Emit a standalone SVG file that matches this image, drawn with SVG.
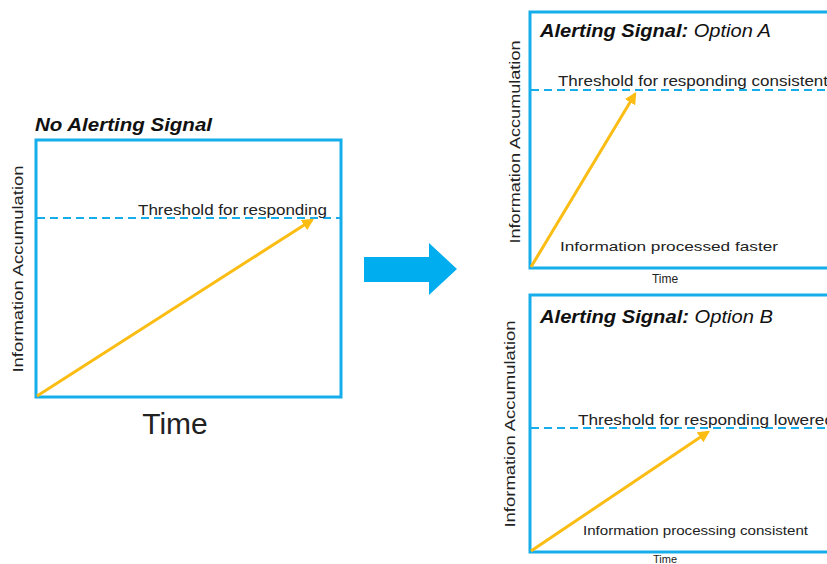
<svg xmlns="http://www.w3.org/2000/svg" width="827" height="564" viewBox="0 0 827 564">
  <style>
    .frame { fill: none; stroke: #16ADEB; stroke-width: 3; }
    .thresh { stroke: #16ADEB; stroke-width: 2; stroke-dasharray: 8 5; fill: none; }
    .accum { stroke: #FBBD14; stroke-width: 3; fill: none; marker-end: url(#head); }
    .lbl { font-family: "Liberation Sans", Arial, sans-serif; fill: #222; }
    .title { font-family: "Liberation Sans", Arial, sans-serif; font-style: italic; fill: #111; }
  </style>
  <defs>
    <marker id="head" viewBox="0 0 10 10" refX="8" refY="5" markerWidth="4" markerHeight="4" orient="auto" markerUnits="strokeWidth">
      <path d="M0,0 L10,5 L0,10 Z" fill="#FBBD14"/>
    </marker>
  </defs>
  <rect width="827" height="564" fill="#fff"/>

  <!-- Baseline panel -->
  <g id="no-signal">
    <text class="title" x="35" y="131" font-size="18" font-weight="bold" textLength="177" lengthAdjust="spacingAndGlyphs">No Alerting Signal</text>
    <rect class="frame" x="36" y="140" width="305" height="257"/>
    <line class="thresh" x1="37" y1="218" x2="340" y2="218"/>
    <text class="lbl" x="138" y="215" font-size="14" textLength="189" lengthAdjust="spacingAndGlyphs">Threshold for responding</text>
    <text class="lbl" transform="translate(23,269) rotate(-90)" text-anchor="middle" font-size="14" textLength="207" lengthAdjust="spacingAndGlyphs">Information Accumulation</text>
    <text class="lbl" x="175" y="434" text-anchor="middle" font-size="30">Time</text>
  </g>

  <!-- Option A panel -->
  <g id="option-a">
    <rect class="frame" x="530" y="12" width="310" height="256"/>
    <text class="title" x="540" y="37" font-size="18" textLength="231" lengthAdjust="spacingAndGlyphs"><tspan font-weight="bold">Alerting Signal:</tspan> Option A</text>
    <line class="thresh" x1="531" y1="90" x2="827" y2="90"/>
    <text class="lbl" x="558" y="86" font-size="14" textLength="270" lengthAdjust="spacingAndGlyphs">Threshold for responding consistent</text>
    <text class="lbl" x="560" y="251" font-size="13.5" textLength="218" lengthAdjust="spacingAndGlyphs">Information processed faster</text>
    <text class="lbl" transform="translate(520,142) rotate(-90)" text-anchor="middle" font-size="14" textLength="203" lengthAdjust="spacingAndGlyphs">Information Accumulation</text>
    <text class="lbl" x="665" y="283" text-anchor="middle" font-size="12">Time</text>
  </g>

  <!-- Option B panel -->
  <g id="option-b">
    <rect class="frame" x="530" y="295" width="310" height="257"/>
    <text class="title" x="540" y="323" font-size="18" textLength="233" lengthAdjust="spacingAndGlyphs"><tspan font-weight="bold">Alerting Signal:</tspan> Option B</text>
    <line class="thresh" x1="531" y1="428" x2="827" y2="428"/>
    <text class="lbl" x="578" y="425" font-size="14" textLength="256" lengthAdjust="spacingAndGlyphs">Threshold for responding lowered</text>
    <text class="lbl" x="583" y="535" font-size="13.5" textLength="225" lengthAdjust="spacingAndGlyphs">Information processing consistent</text>
    <text class="lbl" transform="translate(515,424) rotate(-90)" text-anchor="middle" font-size="14" textLength="207" lengthAdjust="spacingAndGlyphs">Information Accumulation</text>
    <text class="lbl" x="665" y="563" text-anchor="middle" font-size="11">Time</text>
  </g>

  <!-- Transition arrow -->
  <g id="transition">
    <path d="M364,257 H429 V243 L457,269 L429,295 V282 H364 Z" fill="#00AEEF"/>
  </g>

  <!-- Accumulation traces -->
  <g id="connectors">
    <line class="accum" x1="37" y1="396" x2="312" y2="220"/>
    <line class="accum" x1="531" y1="267" x2="635" y2="94"/>
    <line class="accum" x1="531" y1="551" x2="708" y2="432"/>
  </g>
</svg>
